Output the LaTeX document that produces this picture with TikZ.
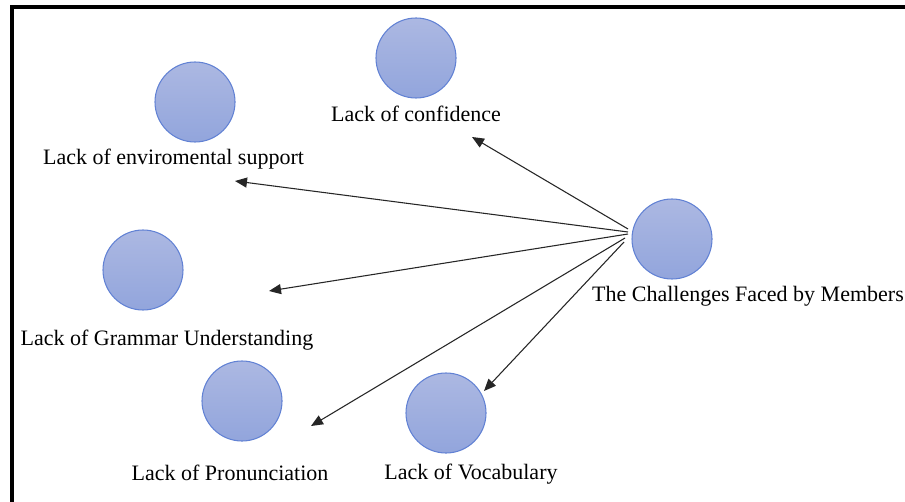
\documentclass[tikz,border=0pt]{standalone}
\usepackage{fontspec}
\setmainfont{Liberation Serif}
\usetikzlibrary{arrows.meta}
\definecolor{ctop}{RGB}{172,184,226}
\definecolor{cbot}{RGB}{146,165,220}
\definecolor{cedge}{RGB}{98,130,212}
\tikzset{
  ball/.style={circle, minimum size=60pt, inner sep=0pt, draw=cedge, line width=0.8pt, top color=ctop, bottom color=cbot},
  lbl/.style={font=\fontsize{16.5pt}{19pt}\selectfont, inner sep=0pt, anchor=center},
  conn/.style={draw=black!85, line width=0.8pt, -{Triangle[length=9pt,width=7.5pt]}}
}
\begin{document}
\begin{tikzpicture}[x=0.75pt,y=-0.75pt]
\useasboundingbox (0,0) rectangle (905,502);
\fill[white] (0,0) rectangle (905,502);
\draw[line width=2.3pt, black] (12,510) -- (12,7) -- (915,7);
% circles
\node[ball] (c1) at (416,58) {};
\node[ball] (c2) at (195,102) {};
\node[ball] (c3) at (143,270) {};
\node[ball] (c4) at (242,401) {};
\node[ball] (c5) at (446,413) {};
\node[ball] (c0) at (672,239) {};
% labels
\node[lbl] (l1) at (416,114) {Lack of confidence};
\node[lbl] (l2) at (173.5,159) {Lack of enviromental support};
\node[lbl] (l3) at (167,340) {Lack of Grammar Understanding};
\node[lbl] (l4) at (230,473) {Lack of Pronunciation};
\node[lbl] (l5) at (471,474) {Lack of Vocabulary};
\node[lbl] (l0) at (748,296) {The Challenges Faced by Members};
% connector end points
\coordinate (s1) at (628,229);
\coordinate (s2) at (628,232);
\coordinate (s3) at (628,234);
\coordinate (s4) at (625,238);
\coordinate (s5) at (624,242);
\coordinate (e1) at (472,137);
\coordinate (e2) at (235,181);
\coordinate (e3) at (269,291);
\coordinate (e4) at (311,426);
\coordinate (e5) at (484,391);
\draw[conn] (s1) -- (e1);
\draw[conn] (s2) -- (e2);
\draw[conn] (s3) -- (e3);
\draw[conn] (s4) -- (e4);
\draw[conn] (s5) -- (e5);
\end{tikzpicture}
\end{document}
